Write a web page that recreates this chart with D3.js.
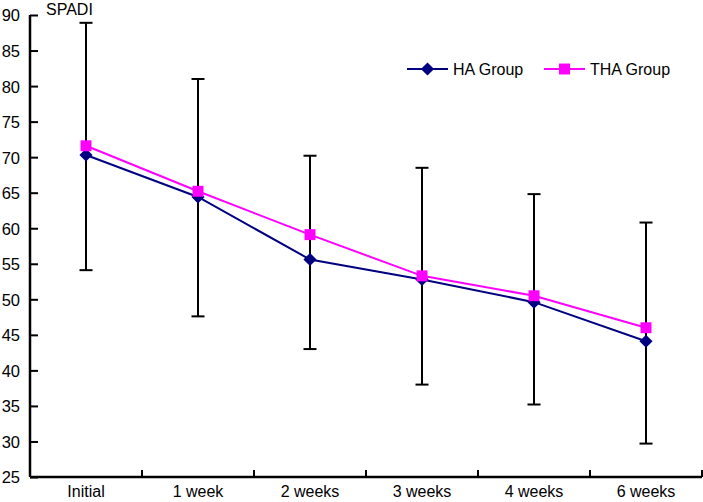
<!DOCTYPE html>
<html><head><meta charset="utf-8">
<script src="https://cdn.jsdelivr.net/npm/d3@7/dist/d3.min.js"></script>
<style>body{margin:0;background:#fff}svg{display:block;font-family:"Liberation Sans",Arial,sans-serif}</style>
</head><body><svg id="c" width="703" height="502"></svg>
<script>
const categories = ["Initial","1 week","2 weeks","3 weeks","4 weeks","6 weeks"];
const haValues  = [70.3, 64.4, 55.6, 52.8, 49.6, 44.1];
const thaValues = [71.6, 65.2, 59.1, 53.3, 50.5, 46.0];
const errLow  = [54.1, 47.6, 43.0, 38.0, 35.2, 29.7];
const errHigh = [88.9, 81.0, 70.2, 68.5, 64.8, 60.8];
const yTicks = [25,30,35,40,45,50,55,60,65,70,75,80,85,90];
const seriesNames = ["HA Group","THA Group"];

const svg = d3.select("#c");
const x = d3.scaleBand().domain(categories).range([30, 702]);
const y = d3.scaleLinear().domain([25, 90]).range([477, 15]);
const cx = d => x(d) + x.bandwidth()/2;

// y axis
const ya = svg.append("g").attr("transform","translate(30,0)")
  .call(d3.axisRight(y).tickValues(yTicks).tickSize(8).tickFormat(d3.format("d")));
ya.select(".domain").attr("stroke","#000").attr("stroke-width",2.5).attr("d","M0,15V477");
ya.selectAll(".tick line").attr("stroke","#000").attr("stroke-width",2);
ya.selectAll(".tick text").attr("x",-10).attr("text-anchor","end").attr("font-size",16.5).attr("fill","#000").attr("dy","0.36em");

// x axis
const xa = svg.append("g").attr("transform","translate(0,477)")
  .call(d3.axisBottom(x).tickSize(0));
xa.select(".domain").attr("stroke","#000").attr("stroke-width",2.5).attr("d","M30,0H702");
xa.selectAll(".tick text").attr("font-size",16).attr("fill","#000").attr("y",20).attr("dy",0);
// boundary ticks pointing up
svg.append("g").selectAll("line").data(categories).join("line")
  .attr("x1",(d,i)=> 30 + (i+1)*x.bandwidth()).attr("x2",(d,i)=> 30 + (i+1)*x.bandwidth())
  .attr("y1",477).attr("y2",470).attr("stroke","#000").attr("stroke-width",2);

svg.append("text").attr("x",46).attr("y",15).attr("font-size",16).attr("fill","#000").text("SPADI");

// error bars
const eb = svg.append("g").attr("stroke","#000").attr("stroke-width",2);
categories.forEach((c,i)=>{
  eb.append("line").attr("x1",cx(c)).attr("x2",cx(c)).attr("y1",y(errLow[i])).attr("y2",y(errHigh[i]));
  eb.append("line").attr("x1",cx(c)-6.5).attr("x2",cx(c)+6.5).attr("y1",y(errLow[i])).attr("y2",y(errLow[i]));
  eb.append("line").attr("x1",cx(c)-6.5).attr("x2",cx(c)+6.5).attr("y1",y(errHigh[i])).attr("y2",y(errHigh[i]));
});

const line = d3.line().x((d,i)=>cx(categories[i])).y(d=>y(d));
const colors = ["#000080","#ff00ff"];
const diamond = d3.symbol().type(d3.symbolDiamond2).size(110);
const square = d3.symbol().type(d3.symbolSquare).size(120);

svg.append("path").datum(haValues).attr("d",line).attr("fill","none").attr("stroke",colors[0]).attr("stroke-width",2);
svg.append("path").datum(thaValues).attr("d",line).attr("fill","none").attr("stroke",colors[1]).attr("stroke-width",2);
svg.append("g").selectAll("path").data(haValues).join("path")
  .attr("d",diamond).attr("fill",colors[0])
  .attr("transform",(d,i)=>`translate(${cx(categories[i])},${y(d)})`);
svg.append("g").selectAll("path").data(thaValues).join("path")
  .attr("d",square).attr("fill",colors[1])
  .attr("transform",(d,i)=>`translate(${cx(categories[i])},${y(d)})`);

// legend
const lg = svg.append("g");
const lx = [407, 544];
seriesNames.forEach((n,i)=>{
  lg.append("line").attr("x1",lx[i]).attr("x2",lx[i]+41).attr("y1",69).attr("y2",69).attr("stroke",colors[i]).attr("stroke-width",2);
  lg.append("path").attr("d", i===0 ? diamond : square).attr("fill",colors[i])
    .attr("transform",`translate(${lx[i]+20.5},69)`);
  lg.append("text").attr("x",lx[i]+46).attr("y",69).attr("dy","0.36em").attr("font-size",16).attr("fill","#000").text(n);
});
</script></body></html>
